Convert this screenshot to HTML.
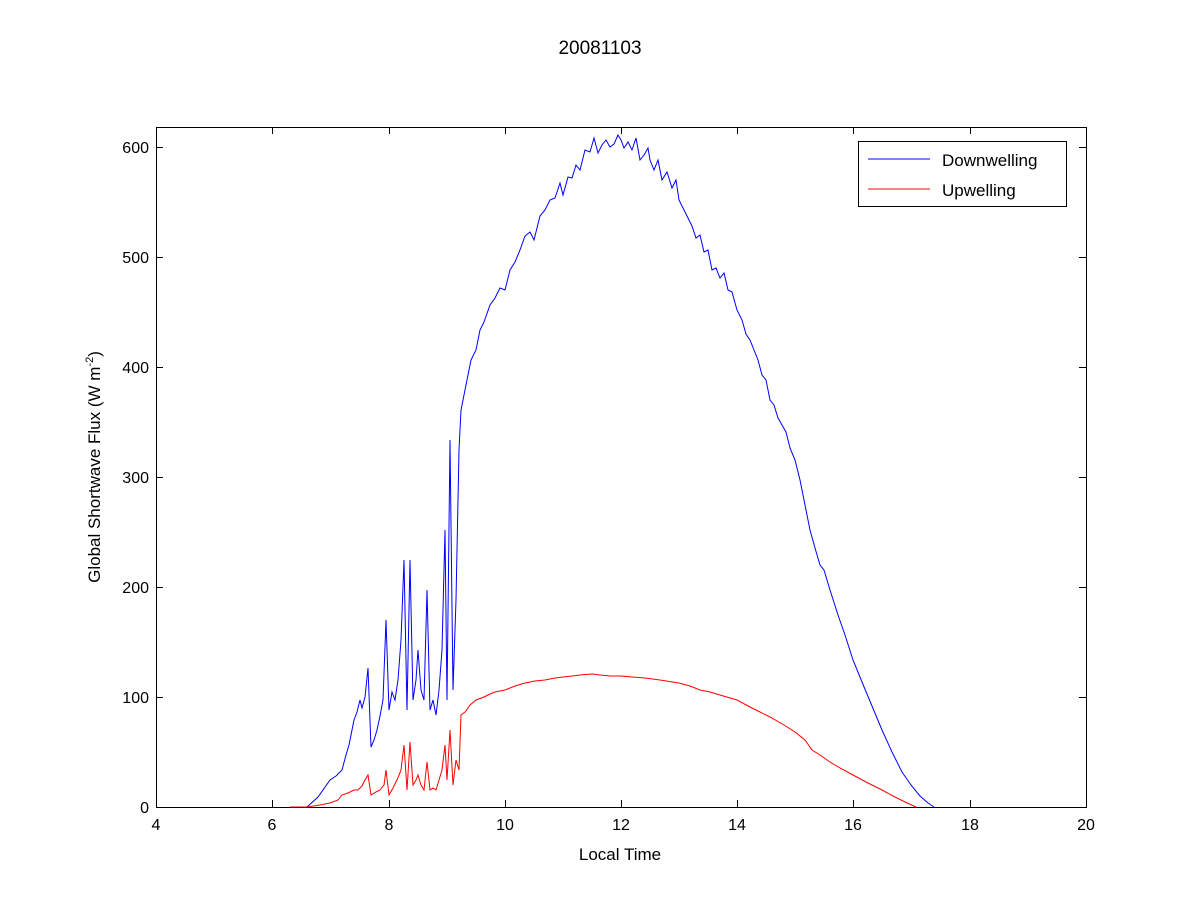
<!DOCTYPE html>
<html><head><meta charset="utf-8"><style>body{margin:0;background:#fff}svg{display:block}text{font-family:"Liberation Sans",Arial,sans-serif;fill:#000}</style></head>
<body>
<svg width="1200" height="900" viewBox="0 0 1200 900">
<rect width="1200" height="900" fill="#fff"/>
<text x="600" y="54" font-size="19" text-anchor="middle">20081103</text>
<rect x="156.5" y="127.5" width="930" height="680" fill="#fff" stroke="#000" stroke-width="1"/>
<g stroke="#000" stroke-width="1">
<path d="M156.5 807v-7M272.5 807v-7M389.5 807v-7M505.5 807v-7M621.5 807v-7M737.5 807v-7M853.5 807v-7M970.5 807v-7M1086.5 807v-7
M156.5 127v7M272.5 127v7M389.5 127v7M505.5 127v7M621.5 127v7M737.5 127v7M853.5 127v7M970.5 127v7M1086.5 127v7
M156 807.5h7M156 697.5h7M156 587.5h7M156 477.5h7M156 367.5h7M156 257.5h7M156 147.5h7
M1086 807.5h-7M1086 697.5h-7M1086 587.5h-7M1086 477.5h-7M1086 367.5h-7M1086 257.5h-7M1086 147.5h-7"/>
</g>
<g font-size="16" text-anchor="middle">
<text x="156" y="830">4</text><text x="272" y="830">6</text><text x="389" y="830">8</text><text x="505" y="830">10</text><text x="621" y="830">12</text><text x="737" y="830">14</text><text x="853" y="830">16</text><text x="970" y="830">18</text><text x="1086" y="830">20</text>
</g>
<g font-size="16" text-anchor="end">
<text x="149" y="813">0</text><text x="149" y="703">100</text><text x="149" y="593">200</text><text x="149" y="483">300</text><text x="149" y="373">400</text><text x="149" y="263">500</text><text x="149" y="153">600</text>
</g>
<text x="620" y="860" font-size="17" text-anchor="middle">Local Time</text>
<text transform="translate(100,467) rotate(-90)" font-size="17" text-anchor="middle">Global Shortwave Flux (W m<tspan font-size="11" dy="-7">-2</tspan><tspan dy="7">)</tspan></text>
<polyline fill="none" stroke="#0000ff" stroke-width="1" points="290,807 307,807 318,797 330,780 336,776 342,770 346,755 349,745 352,730 354,720 357,712 360,700 362,708 365,697 368,668 371,747 374,740 377,730 380,716 383,700 386,620 389,710 392,692 395,700 398,680 401,640 404,560 407,710 410,560 413,700 416,680 418,650 421,690 424,700 427,590 430,710 433,700 436,715 439,690 442,650 445,530 447,700 450,440 453,690 456,600 459,450 461,410 465,390 468,375 471,360 476,350 480,330 484,322 490,305 495,298 500,288 505,290 510,270 515,262 520,250 525,236 530,232 534,240 540,216 545,210 550,200 555,198 560,183 563,195 568,177 572,178 576,165 580,170 585,150 590,152 594,138 598,153 602,145 606,140 610,147 614,144 618,135 621,140 624,148 628,142 632,150 636,138 640,160 644,155 648,148 650,160 654,170 658,160 662,180 667,172 672,188 676,180 679,200 684,210 688,218 692,226 696,238 700,235 704,252 708,250 712,270 716,268 720,278 724,273 728,290 732,292 737,310 742,320 746,334 750,340 754,350 758,360 762,375 766,380 770,400 774,405 778,418 782,425 786,432 790,448 795,460 800,480 805,505 810,530 815,548 820,565 824,570 830,590 838,615 845,635 853,660 862,682 872,706 882,730 892,752 902,772 911,785 920,796 928,803 934,807"/>
<polyline fill="none" stroke="#ff0000" stroke-width="1" points="290,807 307,807 320,805 330,803 338,800 342,795 348,793 354,790 358,790 362,786 365,780 368,775 371,795 376,792 380,790 384,785 386,770 389,795 393,788 397,780 401,770 404,745 407,790 410,742 413,785 416,780 418,775 421,785 424,790 427,762 430,790 433,788 436,790 439,780 442,770 445,745 447,780 450,730 453,785 456,760 459,770 461,715 465,712 470,705 476,700 484,697 490,694 495,692 505,690 515,686 525,683 535,681 545,680 555,678 563,677 572,676 580,675 592,674 600,675 610,676 621,676 632,677 645,678 660,680 679,683 690,686 700,690 710,692 720,695 737,700 750,707 760,712 770,717 784,725 795,732 805,740 812,750 820,755 830,762 840,768 853,775 866,782 882,790 895,797 905,802 916,807"/>
<rect x="858.5" y="141.5" width="208" height="65" fill="#fff" stroke="#000"/>
<line x1="868" y1="159" x2="930" y2="159" stroke="#0000ff"/>
<line x1="868" y1="189" x2="930" y2="189" stroke="#ff0000"/>
<text x="942" y="166" font-size="17">Downwelling</text>
<text x="942" y="196" font-size="17">Upwelling</text>
</svg>
</body></html>
